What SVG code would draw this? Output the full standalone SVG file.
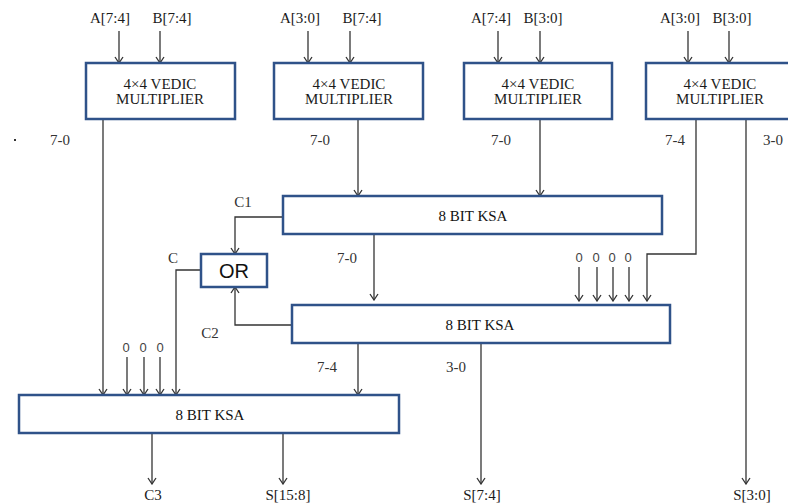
<svg xmlns="http://www.w3.org/2000/svg" width="788" height="504" viewBox="0 0 788 504">
<defs>
<marker id="ar" viewBox="0 0 10 10" refX="9" refY="5" markerWidth="10" markerHeight="10" markerUnits="userSpaceOnUse" orient="auto">
<polyline points="3,1 9,5 3,9" fill="none" stroke="#333" stroke-width="1.3"/>
</marker>
</defs>
<style>
.box{fill:#fff;stroke:#2f5289;stroke-width:2.5}
.ln{fill:none;stroke:#333;stroke-width:1.3}
.ar{marker-end:url(#ar)}
.t{font-family:"Liberation Serif","Times New Roman",serif;font-size:15px;fill:#1a1a1a;text-anchor:middle}
.k{font-family:"Liberation Serif","Times New Roman",serif;font-size:15px;fill:#111;text-anchor:middle}
.lb{font-family:"Liberation Serif","Times New Roman",serif;font-size:15px;fill:#333;text-anchor:middle}
.z{font-family:"Liberation Sans",Arial,sans-serif;font-size:13px;fill:#444;text-anchor:middle}
.or{font-family:"Liberation Sans",Arial,sans-serif;font-size:20px;fill:#111;text-anchor:middle}
</style>
<g id="connectors">
<path class="ln ar" d="M119,31V63"/>
<path class="ln ar" d="M160,31V63"/>
<path class="ln ar" d="M308,31V63"/>
<path class="ln ar" d="M350,31V63"/>
<path class="ln ar" d="M498,31V63"/>
<path class="ln ar" d="M540,31V63"/>
<path class="ln ar" d="M688,31V63"/>
<path class="ln ar" d="M729,31V63"/>
<path class="ln ar" d="M103,120V395"/>
<path class="ln ar" d="M358,120V196"/>
<path class="ln ar" d="M540,120V196"/>
<path class="ln ar" d="M696,120V254H647V301"/>
<path class="ln ar" d="M746,120V484"/>
<path class="ln ar" d="M374,235V300"/>
<path class="ln ar" d="M283,217H235V254"/>
<path class="ln ar" d="M292,325H235V287"/>
<path class="ln ar" d="M201,270H176V395"/>
<path class="ln ar" d="M579,267V301"/>
<path class="ln ar" d="M597,267V301"/>
<path class="ln ar" d="M613,267V301"/>
<path class="ln ar" d="M629,267V301"/>
<path class="ln ar" d="M127,357V395"/>
<path class="ln ar" d="M144,357V395"/>
<path class="ln ar" d="M160,357V395"/>
<path class="ln ar" d="M358,344V395"/>
<path class="ln ar" d="M481,344V484"/>
<path class="ln ar" d="M152,434V484"/>
<path class="ln ar" d="M283,434V484"/>
</g>
<g id="vm1"><rect class="box" x="86" y="63" width="149" height="56"/><text class="t" x="160" y="89">4×4 VEDIC</text><text class="t" x="160" y="104">MULTIPLIER</text></g>
<g id="vm2"><rect class="box" x="274" y="63" width="149" height="56"/><text class="t" x="349" y="89">4×4 VEDIC</text><text class="t" x="349" y="104">MULTIPLIER</text></g>
<g id="vm3"><rect class="box" x="464" y="63" width="148" height="56"/><text class="t" x="538" y="89">4×4 VEDIC</text><text class="t" x="538" y="104">MULTIPLIER</text></g>
<g id="vm4"><rect class="box" x="646" y="63" width="150" height="56"/><text class="t" x="720" y="89">4×4 VEDIC</text><text class="t" x="720" y="104">MULTIPLIER</text></g>
<g id="ksa1"><rect class="box" x="283" y="196" width="379" height="38"/><text class="k" x="473" y="221">8 BIT KSA</text></g>
<g id="or"><rect class="box" x="201" y="254" width="66" height="33" stroke-width="2"/><text class="or" x="234" y="278">OR</text></g>
<g id="ksa2"><rect class="box" x="292" y="305" width="378" height="38"/><text class="k" x="480" y="330">8 BIT KSA</text></g>
<g id="ksa3"><rect class="box" x="19" y="395" width="380" height="38"/><text class="k" x="210" y="420">8 BIT KSA</text></g>
<g id="labels">
<text class="t" x="110" y="23">A[7:4]</text><text class="t" x="172" y="23">B[7:4]</text>
<text class="t" x="300" y="23">A[3:0]</text><text class="t" x="362" y="23">B[7:4]</text>
<text class="t" x="491" y="23">A[7:4]</text><text class="t" x="543" y="23">B[3:0]</text>
<text class="t" x="680" y="23">A[3:0]</text><text class="t" x="732" y="23">B[3:0]</text>
<rect x="14" y="139" width="2" height="2" fill="#333"/>
<text class="lb" x="60" y="145">7-0</text>
<text class="lb" x="320" y="145">7-0</text>
<text class="lb" x="501" y="145">7-0</text>
<text class="lb" x="675" y="145">7-4</text>
<text class="lb" x="773" y="145">3-0</text>
<text class="lb" x="243" y="207">C1</text>
<text class="lb" x="173" y="263">C</text>
<text class="lb" x="347" y="263">7-0</text>
<text class="lb" x="210" y="338">C2</text>
<text class="z" x="579" y="262">0</text><text class="z" x="596" y="262">0</text><text class="z" x="612" y="262">0</text><text class="z" x="628" y="262">0</text>
<text class="z" x="126" y="352">0</text><text class="z" x="143" y="352">0</text><text class="z" x="160" y="352">0</text>
<text class="lb" x="327" y="372">7-4</text>
<text class="lb" x="456" y="372">3-0</text>
<text class="t" x="153" y="500">C3</text>
<text class="t" x="288" y="500">S[15:8]</text>
<text class="t" x="482" y="500">S[7:4]</text>
<text class="t" x="752" y="500">S[3:0]</text>
</g>
</svg>
